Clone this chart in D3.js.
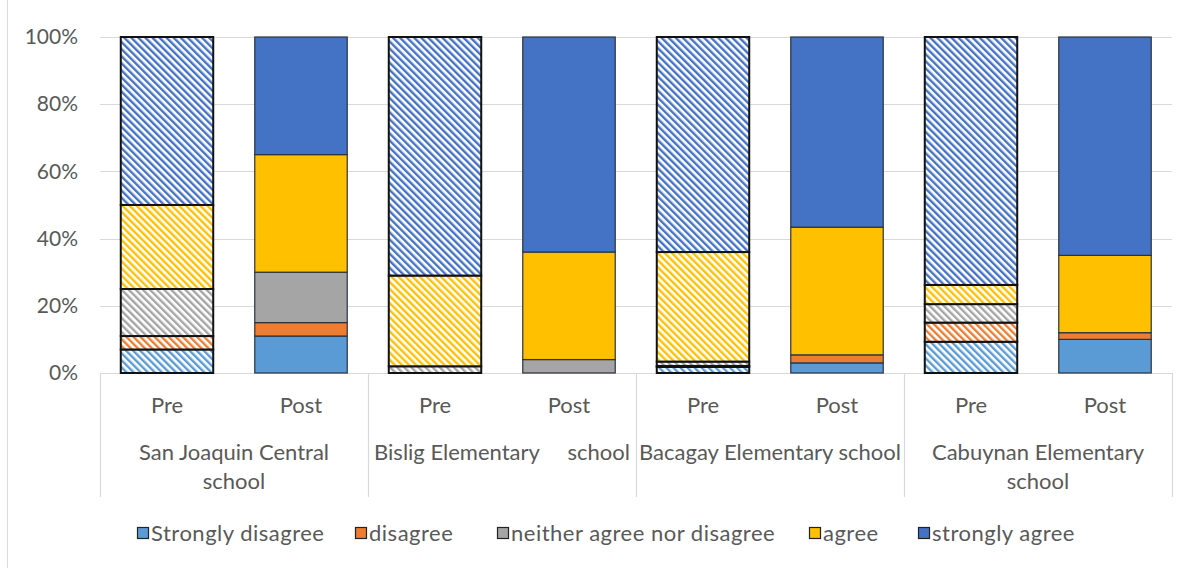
<!DOCTYPE html>
<html><head><meta charset="utf-8">
<script src="https://cdn.jsdelivr.net/npm/d3@7"></script>
<style>body{margin:0;background:#fff}svg{display:block}text{font-family:Lato,"Open Sans",sans-serif;fill:#595959}</style>
</head><body><svg id="c" width="1194" height="568"></svg>
<script>
const groups = ["San Joaquin Central school","Bislig Elementary school","Bacagay Elementary school","Cabuynan Elementary school"];
const groupLabelLines = [["San Joaquin Central","school"],["Bislig Elementary     school"],["Bacagay Elementary school"],["Cabuynan Elementary","school"]];
const phases = ["Pre","Post"];
const seriesNames = ["Strongly disagree","disagree","neither agree nor disagree","agree","strongly agree"];
const seriesColors = ["#5B9BD5","#ED7D31","#A5A5A5","#FFC000","#4472C4"];
// values per bar: SJ Pre, SJ Post, Bislig Pre, Bislig Post, Bacagay Pre, Bacagay Post, Cabuynan Pre, Cabuynan Post
const stronglyDisagree = [7, 11, 0, 0, 1.8, 3, 9.3, 10];
const disagree         = [4, 4, 0, 0, 0.3, 2.4, 5.7, 2];
const neither          = [14, 15, 2, 4, 1.3, 0, 5.5, 0];
const agree            = [25, 35, 27, 32, 32.6, 38, 5.7, 23];
const stronglyAgree    = [50, 35, 71, 64, 64, 56.6, 73.8, 65];
const yTicks = [0, 0.2, 0.4, 0.6, 0.8, 1];

(function () {
const svg = d3.select("#c");
const pl = 100, pr = 1172, pt = 37, pb = 373;
const keys = [];
groups.forEach((g, gi) => phases.forEach(p => keys.push(gi + "|" + p)));
const rows = keys.map((k, i) => ({key: k, phase: k.split("|")[1],
  vals: [stronglyDisagree[i], disagree[i], neither[i], agree[i], stronglyAgree[i]]}));

const x = d3.scaleBand().domain(keys).range([pl, pr]).paddingInner(0.31).paddingOuter(0.155);
const xg = d3.scaleBand().domain(groups).range([pl, pr]);
const y = d3.scaleLinear().domain([0, 1]).range([pb, pt]);

svg.append("line").attr("x1", 7.5).attr("x2", 7.5).attr("y1", 0).attr("y2", 568).attr("stroke", "#D9D9D9");

const defs = svg.append("defs");
seriesColors.forEach((c, i) => {
  const p = defs.append("pattern").attr("id", "hatch" + i).attr("patternUnits", "userSpaceOnUse")
    .attr("width", 5).attr("height", 10).attr("patternTransform", "rotate(-45)");
  p.append("rect").attr("width", 5).attr("height", 10).attr("fill", "#fff");
  p.append("rect").attr("x", 0).attr("width", 2.4).attr("height", 10).attr("fill", c);
});

svg.append("g").selectAll("line").data(yTicks).join("line")
  .attr("x1", pl).attr("x2", pr)
  .attr("y1", d => Math.round(y(d)) + 0.5).attr("y2", d => Math.round(y(d)) + 0.5)
  .attr("stroke", "#D9D9D9").attr("stroke-width", 1.2);

const yAxis = d3.axisLeft(y).tickValues(yTicks).tickFormat(d3.format(".0%")).tickSize(0).tickPadding(22);
const ya = svg.append("g").attr("transform", `translate(${pl},0)`).call(yAxis);
ya.select(".domain").remove();
ya.selectAll("text").attr("font-size", 21).attr("fill", "#595959").style("font-family", "Lato, sans-serif");

const dividers = groups.map(g => xg(g)).concat([pr]);
svg.append("g").selectAll("line").data(dividers).join("line")
  .attr("x1", d => Math.round(d) + 0.5).attr("x2", d => Math.round(d) + 0.5)
  .attr("y1", pb).attr("y2", 497).attr("stroke", "#D9D9D9").attr("stroke-width", 1.2);

rows.forEach(r => {
  let cum = 0;
  const isPre = r.phase === "Pre";
  r.vals.forEach((v, si) => {
    const y0 = cum / 100, y1 = (cum + v) / 100;
    cum += v;
    if (v <= 0) return;
    svg.append("rect")
      .attr("x", x(r.key)).attr("width", x.bandwidth())
      .attr("y", y(y1)).attr("height", y(y0) - y(y1))
      .attr("fill", isPre ? `url(#hatch${si})` : seriesColors[si])
      .attr("stroke", isPre ? "#111" : "#2b3340")
      .attr("stroke-width", isPre ? 2 : 1.2);
  });
});

svg.append("g").selectAll("text").data(rows).join("text")
  .attr("x", d => x(d.key) + x.bandwidth() / 2).attr("y", 413)
  .attr("text-anchor", "middle").attr("font-size", 22).text(d => d.phase);

groups.forEach((g, gi) => {
  groupLabelLines[gi].forEach((line, li) => {
    svg.append("text").attr("x", xg(g) + xg.bandwidth() / 2).attr("y", 460 + li * 29)
      .attr("text-anchor", "middle").attr("font-size", 22).style("white-space", "pre")
      .text(line);
  });
});

const legendX = [137, 355, 497, 809, 918];
const lg = svg.append("g");
seriesNames.forEach((s, i) => {
  lg.append("rect").attr("x", legendX[i] + 0.5).attr("y", 527.5).attr("width", 11).attr("height", 11)
    .attr("fill", seriesColors[i]).attr("stroke", "#222").attr("stroke-width", 1.2);
  lg.append("text").attr("x", legendX[i] + 14).attr("y", 541).attr("font-size", 22)
    .attr("letter-spacing", 0.5).text(s);
});
})();
</script></body></html>
